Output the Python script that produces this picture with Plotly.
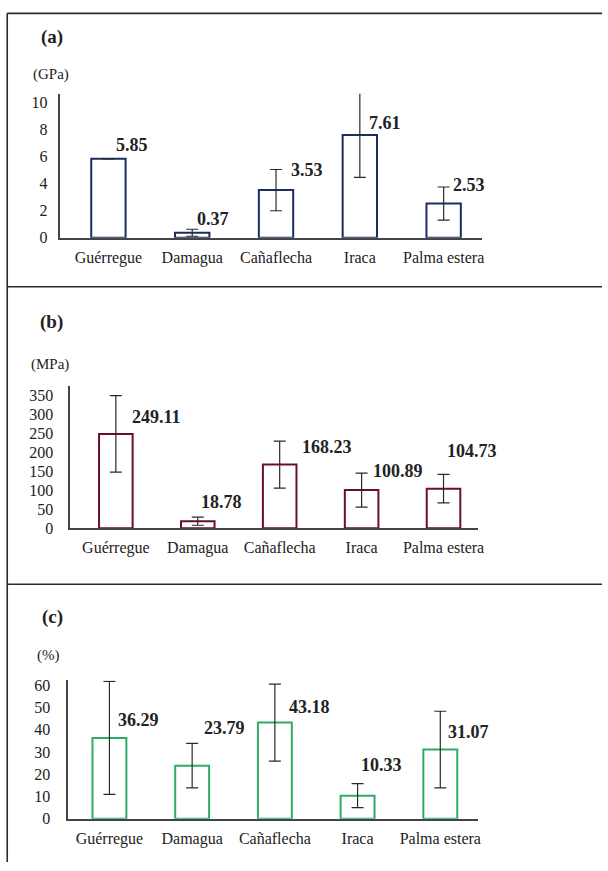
import plotly.graph_objects as go

W, H = 608, 871

categories = ["Guérregue", "Damagua", "Cañaflecha", "Iraca", "Palma estera"]

modulus_gpa = [5.85, 0.37, 3.53, 7.61, 2.53]
modulus_err = [None, 0.26, 1.53, 3.14, 1.23]

strength_mpa = [249.11, 18.78, 168.23, 100.89, 104.73]
strength_err = [101, 10.6, 62, 44.7, 37.7]

elong_pct = [36.29, 23.79, 43.18, 10.33, 31.07]
elong_err = [25.4, 10.0, 17.3, 5.4, 17.2]

panel_labels = ["(a)", "(b)", "(c)"]
unit_labels = ["(GPa)", "(MPa)", "(%)"]

FONT = "Liberation Serif, Times New Roman, Times, serif"
TXT = "#222222"

def px_x(p):
    return p / W

def px_y(p):
    return 1 - p / H

panels = [
    dict(vals=modulus_gpa, err=modulus_err, color="#1d2c5e", xd=(61, 487), yd=(237.3, 91),
         xr=[-0.573, 4.46], yr=[0, 10.68], dtick=2, ystand=8,
         title_pos=(52.7, 33), unit_pos=(52, 72),
         shifts=[(23.5, 14), (21, 14), (31, 20), (25.5, 12), (25, 18.6)]),
    dict(vals=strength_mpa, err=strength_err, color="#6b1029", xd=(71, 482.7), yd=(532.3, 387.7),
         xr=[-0.556, 4.42], yr=[0, 375.6], dtick=50, ystand=12,
         title_pos=(51.7, 322.7), unit_pos=(50.7, 366),
         shifts=[(40.7, 16.4), (23.3, 19), (47.3, 17.5), (36.7, 19.5), (28.7, 37.7)]),
    dict(vals=elong_pct, err=elong_err, color="#2eaa6b", xd=(69, 482.7), yd=(827, 686.7),
         xr=[-0.497, 4.455], yr=[0, 62.1], dtick=10, ystand=13,
         title_pos=(53.3, 622.7), unit_pos=(49.3, 661),
         shifts=[(29.5, 18.3), (31.9, 38.2), (34.4, 15.1), (24.2, 31), (28.6, 17.8)]),
]

fig = go.Figure()
annotations = []
layout = {}

for i, p in enumerate(panels):
    n = "" if i == 0 else str(i + 1)
    xa, ya = "x" + n, "y" + n
    fig.add_trace(go.Bar(
        x=categories, y=p["vals"], xaxis=xa, yaxis=ya, width=0.41,
        marker=dict(color="white", line=dict(color=p["color"], width=2)),
        error_y=dict(type="data", array=p["err"], visible=True, color="#2a2a2a",
                     thickness=1.2, width=6),
        showlegend=False, hoverinfo="skip",
    ))
    layout["xaxis" + n] = dict(
        domain=[px_x(p["xd"][0]), px_x(p["xd"][1])], anchor=ya, range=p["xr"],
        type="category", showline=True, linecolor="#444", linewidth=1.5,
        ticks="", showgrid=False, zeroline=False, ticklabelstandoff=4,
        tickfont=dict(family=FONT, size=16, color=TXT),
    )
    layout["yaxis" + n] = dict(
        domain=[px_y(p["yd"][0]), px_y(p["yd"][1])], anchor=xa, range=p["yr"],
        dtick=p["dtick"], tick0=0, showline=True, linecolor="#444", linewidth=1.5,
        ticks="", showgrid=False, zeroline=False, ticklabelstandoff=p["ystand"],
        tickfont=dict(family=FONT, size=16, color=TXT),
    )
    for j, (c, v) in enumerate(zip(categories, p["vals"])):
        annotations.append(dict(
            x=c, y=v, xref=xa, yref=ya, text=f"<b>{v:.2f}</b>", showarrow=False,
            xanchor="center", yanchor="middle",
            xshift=p["shifts"][j][0], yshift=p["shifts"][j][1],
            font=dict(family=FONT, size=18, color=TXT),
        ))
    annotations.append(dict(
        x=px_x(p["title_pos"][0]), y=px_y(p["title_pos"][1]), xref="paper", yref="paper",
        text=f"<b>{panel_labels[i]}</b>", showarrow=False, xanchor="center", yanchor="middle",
        font=dict(family=FONT, size=19, color=TXT),
    ))
    annotations.append(dict(
        x=px_x(p["unit_pos"][0]), y=px_y(p["unit_pos"][1]), xref="paper", yref="paper",
        text=unit_labels[i], showarrow=False, xanchor="center", yanchor="middle",
        font=dict(family=FONT, size=15, color=TXT),
    ))

line_style = dict(color="#2a2a2a", width=1.6)
LX = px_x(7.3)
shapes = [
    dict(type="line", xref="paper", yref="paper", x0=LX, x1=1, y0=px_y(9.5), y1=px_y(9.5), line=line_style),
    dict(type="line", xref="paper", yref="paper", x0=LX, x1=LX, y0=px_y(9.5), y1=0, line=line_style),
    dict(type="line", xref="paper", yref="paper", x0=LX, x1=1, y0=px_y(287), y1=px_y(287), line=line_style),
    dict(type="line", xref="paper", yref="paper", x0=LX, x1=1, y0=px_y(589), y1=px_y(589), line=line_style),
]

fig.update_layout(
    width=W, height=H, margin=dict(l=0, r=0, t=0, b=0),
    paper_bgcolor="white", plot_bgcolor="white",
    annotations=annotations, shapes=shapes, **layout,
)

page_fix = (
    "document.documentElement.style.margin='0px';"
    "document.documentElement.style.padding='0px';"
    "document.documentElement.style.overflow='hidden';"
    "document.body.style.margin='0px';"
    "document.body.style.padding='0px';"
    "document.body.style.overflow='hidden';"
)
fig.write_html("out.html", post_script=page_fix, config={"displayModeBar": False})
